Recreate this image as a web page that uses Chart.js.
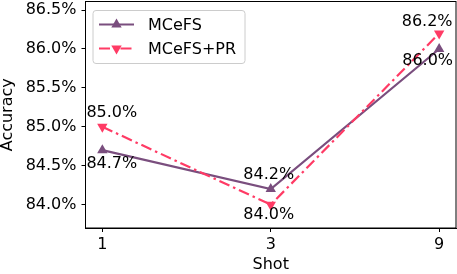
<!DOCTYPE html>
<html>
<head>
<meta charset="utf-8">
<script src="https://cdn.jsdelivr.net/npm/chart.js@4.4.0/dist/chart.umd.min.js"></script>
<style>
  html, body { margin: 0; padding: 0; background: #fff; }
  #wrap { width: 457px; height: 274px; }
</style>
</head>
<body>
<div id="wrap"><canvas id="chart" width="457" height="274"></canvas></div>
<script>
const shots = ['1', '3', '9'];
const mcefs = [84.7, 84.2, 86.0];
const mcefsPR = [85.0, 84.0, 86.2];
const yTicks = [84.0, 84.5, 85.0, 85.5, 86.0, 86.5];

const PURPLE = '#7a4e7e';
const PINK = '#ff3b65';
const FONT = 'DejaVu Sans';

// label offsets in px from each point (dx, dy to text centre)
const labelOffsets = [
  [[9.5, 13.5], [-2, -14], [-11.5, 12]],
  [[9.5, -14], [-2, 10.5], [-12, -11.5]]
];

function triangle(ctx, x, y, r, down, color) {
  ctx.save();
  ctx.fillStyle = color;
  ctx.beginPath();
  const s = down ? -1 : 1;
  ctx.moveTo(x, y - s * r);
  ctx.lineTo(x + r * 0.866, y + s * r * 0.5);
  ctx.lineTo(x - r * 0.866, y + s * r * 0.5);
  ctx.closePath();
  ctx.fill();
  ctx.restore();
}

const extras = {
  id: 'extras',
  afterDraw(chart) {
    const ctx = chart.ctx;
    const a = chart.chartArea;
    // axes box
    ctx.save();
    ctx.strokeStyle = '#000';
    ctx.lineWidth = 1;
    ctx.strokeRect(a.left, a.top, a.right - a.left, a.bottom - a.top);
    ctx.restore();

    // value labels
    ctx.save();
    ctx.font = '16px "' + FONT + '"';
    ctx.fillStyle = '#000';
    ctx.textAlign = 'center';
    ctx.textBaseline = 'middle';
    chart.data.datasets.forEach((ds, di) => {
      const meta = chart.getDatasetMeta(di);
      meta.data.forEach((pt, i) => {
        const off = labelOffsets[di][i];
        ctx.fillText(ds.data[i].y.toFixed(1) + '%', pt.x + off[0], pt.y + off[1]);
      });
    });
    ctx.restore();

    // legend
    const lx = a.left + 7.5, ly = a.top + 9, lw = 152, lh = 53;
    ctx.save();
    ctx.fillStyle = 'rgba(255,255,255,0.8)';
    ctx.strokeStyle = '#cccccc';
    ctx.lineWidth = 1;
    ctx.beginPath();
    ctx.roundRect(lx, ly, lw, lh, 3);
    ctx.fill();
    ctx.stroke();
    const rows = [
      { label: 'MCeFS', color: PURPLE, dash: [], down: false },
      { label: 'MCeFS+PR', color: PINK, dash: [11, 4, 2.5, 4], down: true }
    ];
    rows.forEach((r, k) => {
      const y = ly + 14 + k * 24;
      ctx.strokeStyle = r.color;
      ctx.lineWidth = 2.2;
      ctx.setLineDash(r.dash);
      ctx.beginPath();
      ctx.moveTo(lx + 6, y);
      ctx.lineTo(lx + 41, y);
      ctx.stroke();
      ctx.setLineDash([]);
      triangle(ctx, lx + 23.5, y, 6, r.down, r.color);
      ctx.fillStyle = '#000';
      ctx.font = '16px "' + FONT + '"';
      ctx.textAlign = 'left';
      ctx.textBaseline = 'middle';
      ctx.fillText(r.label, lx + 55, y + 1);
    });
    ctx.restore();
  }
};

new Chart(document.getElementById('chart'), {
  type: 'line',
  data: {
    datasets: [
      {
        label: 'MCeFS',
        data: mcefs.map((v, i) => ({ x: i, y: v })),
        borderColor: PURPLE,
        backgroundColor: PURPLE,
        borderWidth: 2.2,
        pointStyle: 'triangle',
        pointRadius: 6,
        pointBorderWidth: 0,
        order: 1
      },
      {
        label: 'MCeFS+PR',
        data: mcefsPR.map((v, i) => ({ x: i, y: v })),
        borderColor: PINK,
        backgroundColor: PINK,
        borderWidth: 2.2,
        borderDash: [11, 4, 2.5, 4],
        pointStyle: 'triangle',
        pointRotation: 180,
        pointRadius: 6,
        pointBorderWidth: 0,
        order: 0
      }
    ]
  },
  options: {
    responsive: false,
    animation: false,
    devicePixelRatio: 1,
    layout: { autoPadding: false, padding: { top: 1.5, right: 1, left: 0, bottom: 0 } },
    plugins: { legend: { display: false }, tooltip: { enabled: false } },
    scales: {
      x: {
        type: 'linear',
        min: -0.1,
        max: 2.1,
        afterBuildTicks: s => { s.ticks = shots.map((_, i) => ({ value: i })); },
        afterFit: s => { s.height = 46; s.paddingLeft = 0; s.paddingRight = 0; },
        ticks: {
          callback: v => shots[v],
          color: '#000',
          font: { family: FONT, size: 16 },
          padding: 3,
          maxRotation: 0
        },
        grid: { drawOnChartArea: false, drawTicks: true, tickLength: 4, color: '#000' },
        border: { display: true, color: '#000' },
        title: {
          display: true, text: 'Shot', color: '#000',
          font: { family: FONT, size: 16, lineHeight: 1 },
          padding: { top: 0, bottom: 1 }
        }
      },
      y: {
        min: 83.7,
        max: 86.61,
        afterBuildTicks: s => { s.ticks = yTicks.map(v => ({ value: v })); },
        afterFit: s => { s.width = 85.5; s.paddingTop = 0; s.paddingBottom = 0; },
        ticks: {
          callback: v => v.toFixed(1) + '%',
          color: '#000',
          font: { family: FONT, size: 16 },
          padding: 5
        },
        grid: { drawOnChartArea: false, drawTicks: true, tickLength: 4, color: '#000' },
        border: { display: true, color: '#000' },
        title: {
          display: true, text: 'Accuracy', color: '#000',
          font: { family: FONT, size: 16, lineHeight: 1 },
          padding: { top: 0, bottom: 0 }
        }
      }
    }
  },
  plugins: [extras]
});
</script>
</body>
</html>
